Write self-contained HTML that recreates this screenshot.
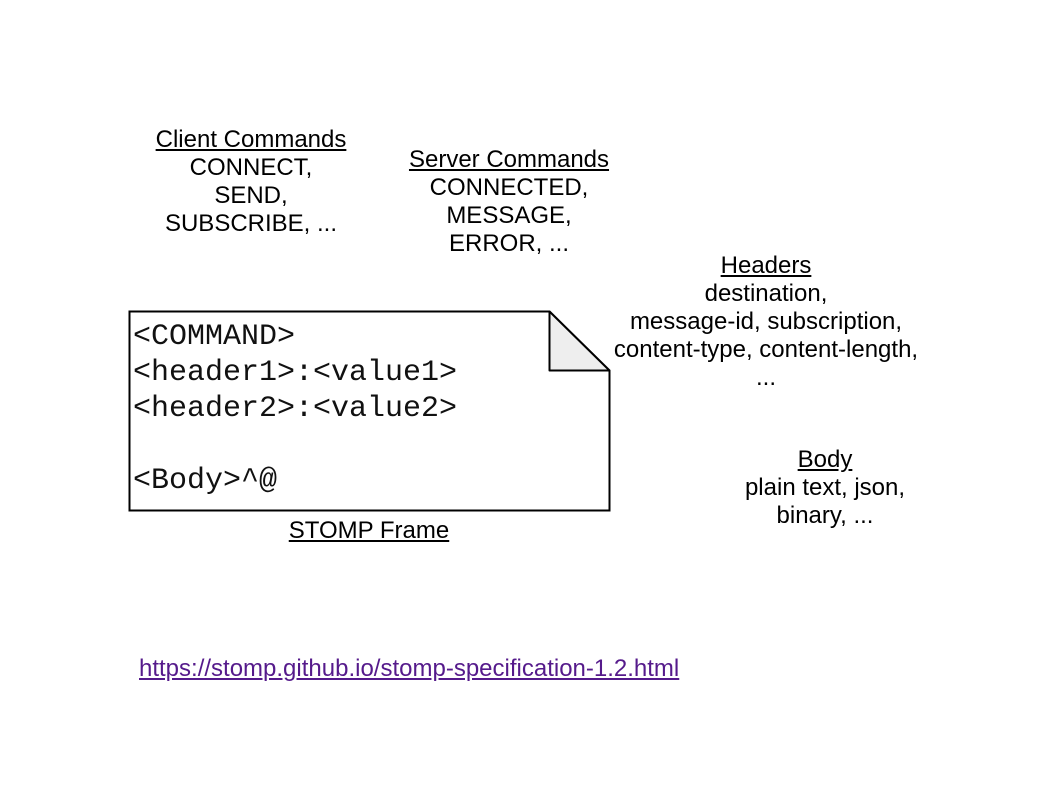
<!DOCTYPE html>
<html><head><meta charset="utf-8"><style>
body{margin:0;width:1040px;height:812px;background:#fff;position:relative;overflow:hidden;font-family:"Liberation Sans",Arial,sans-serif;color:#000}
.t{position:absolute;width:400px;text-align:center;font-size:24px;line-height:28px;white-space:nowrap}
.u{text-decoration:underline}
.m{position:absolute;left:133px;font-family:"Liberation Mono","Courier New",monospace;font-size:30px;letter-spacing:0;line-height:36px;white-space:pre;color:#111}
</style></head><body>
<div class="t" style="left:51px;top:126px"><span class="u">Client Commands</span><br>CONNECT,<br>SEND,<br>SUBSCRIBE, ...</div>
<div class="t" style="left:309px;top:146px"><span class="u">Server Commands</span><br>CONNECTED,<br>MESSAGE,<br>ERROR, ...</div>
<div class="t" style="left:566px;top:252px"><span class="u">Headers</span><br>destination,<br>message-id, subscription,<br>content-type, content-length,<br>...</div>
<div class="t" style="left:625px;top:446px"><span class="u">Body</span><br>plain text, json,<br>binary, ...</div>
<svg style="position:absolute;left:0;top:0" width="1040" height="812">
<path d="M129.5 311.5 H549.5 L609.5 370.5 V510.5 H129.5 Z" fill="#fff" stroke="#000" stroke-width="2"/>
<path d="M549.5 311.5 V370.5 H609.5 Z" fill="#eee" stroke="#000" stroke-width="2" stroke-linejoin="round"/>
</svg>
<div class="m" style="top:319px">&lt;COMMAND&gt;
&lt;header1&gt;:&lt;value1&gt;
&lt;header2&gt;:&lt;value2&gt;

&lt;Body&gt;^@</div>
<div class="t u" style="left:169px;top:517px">STOMP Frame</div>
<div style="position:absolute;left:139px;top:655px;font-size:24px;line-height:28px;color:#551a8b;text-decoration:underline">https://stomp.github.io/stomp-specification-1.2.html</div>
</body></html>
